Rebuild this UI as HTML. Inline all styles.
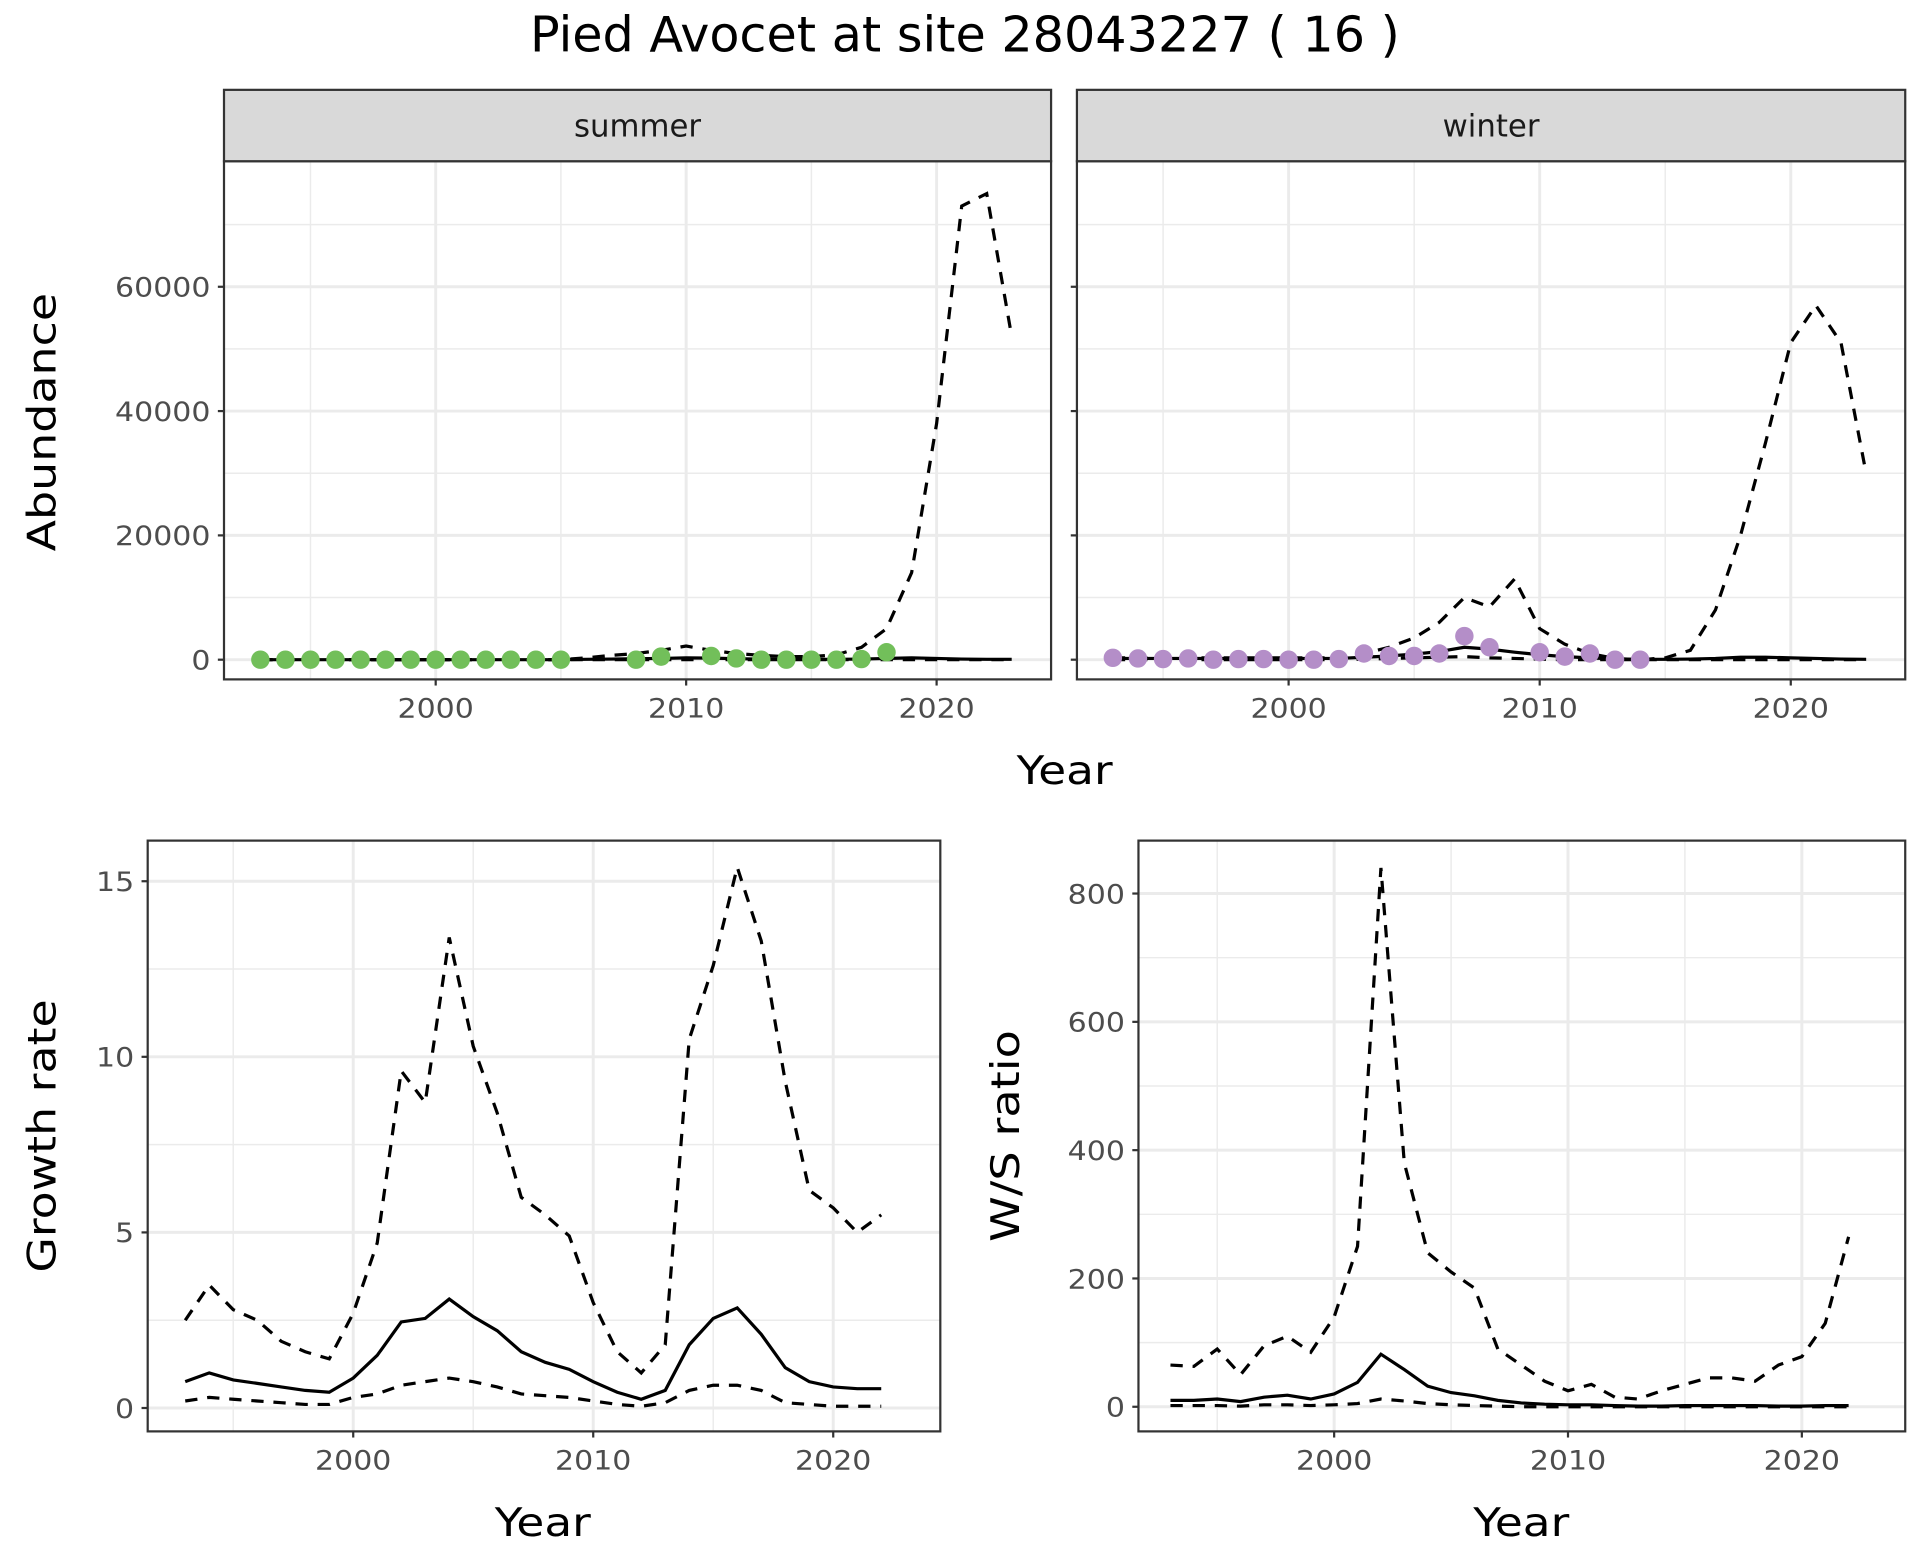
<!DOCTYPE html>
<html><head><meta charset="utf-8"><style>html,body{margin:0;padding:0;background:#fff}svg{display:block}</style></head>
<body>
<svg id="chart" width="1920" height="1560" viewBox="0 0 1560 1267.5" preserveAspectRatio="none" xmlns="http://www.w3.org/2000/svg" font-family="'DejaVu Sans','Liberation Sans',sans-serif">
<text x="784" y="42" font-size="40" text-anchor="middle">Pied Avocet at site 28043227 ( 16 )</text>
</svg>
<script>
const yearsAb = [];for(let y=1993;y<=2023;y++)yearsAb.push(y);
const yearsGr = [];for(let y=1993;y<=2022;y++)yearsGr.push(y);
const sumPtsYears = [1993,1994,1995,1996,1997,1998,1999,2000,2001,2002,2003,2004,2005,2008,2009,2011,2012,2013,2014,2015,2016,2017,2018];
const sumPtsVals  = [0,0,0,0,0,0,0,0,0,0,0,0,0,0,500,600,200,0,0,0,0,100,1200];
const sumMid = [0,0,0,0,0,0,0,0,0,0,0,0,0,50,100,150,200,300,250,150,100,50,50,50,100,200,300,200,100,50,50];
const sumUp  = [0,0,0,0,0,0,0,0,0,0,0,0,0,300,700,1000,1500,2200,1500,1000,700,500,500,800,2000,5000,14000,38000,73000,75000,52000];
const sumLo  = [0,0,0,0,0,0,0,0,0,0,0,0,0,0,0,0,0,0,0,0,0,0,0,0,0,0,0,0,0,0,0];
const winPtsYears = [1993,1994,1995,1996,1997,1998,1999,2000,2001,2002,2003,2004,2005,2006,2007,2008,2010,2011,2012,2013,2014];
const winPtsVals  = [300,200,100,200,0,100,100,0,0,100,1000,600,600,1000,3800,2000,1200,500,1000,0,0];
const winMid = [200,200,200,200,200,200,200,200,200,200,400,600,900,1300,2000,1700,1200,800,500,300,100,50,50,100,200,400,400,300,200,100,50];
const winUp  = [300,300,300,300,300,300,300,300,300,300,1000,2000,3500,6000,10000,8500,13000,5000,2500,1000,200,0,300,1500,8000,20000,35000,51000,57000,51000,30000];
const winLo  = [0,0,0,0,0,0,0,0,0,0,100,200,300,400,500,300,200,100,0,0,0,0,0,0,0,0,0,0,0,0,0];
const grUp  = [2.5,3.5,2.8,2.5,1.9,1.6,1.4,2.7,4.7,9.6,8.7,13.4,10.3,8.4,6.0,5.5,4.9,3.0,1.6,1.0,1.8,10.5,12.6,15.4,13.3,9.3,6.2,5.7,5.0,5.5];
const grMid = [0.75,1.0,0.8,0.7,0.6,0.5,0.45,0.85,1.5,2.45,2.55,3.1,2.6,2.2,1.6,1.3,1.1,0.75,0.45,0.25,0.5,1.8,2.55,2.85,2.1,1.15,0.75,0.6,0.55,0.55];
const grLo  = [0.2,0.3,0.25,0.2,0.15,0.1,0.1,0.3,0.4,0.65,0.75,0.85,0.75,0.6,0.4,0.35,0.3,0.2,0.1,0.05,0.15,0.5,0.65,0.65,0.5,0.15,0.1,0.05,0.05,0.05];
const wsUp  = [65,63,90,50,95,110,85,140,250,840,380,240,210,185,90,65,40,25,35,15,12,25,35,45,45,40,65,78,130,265];
const wsMid = [10,10,12,8,15,18,12,20,38,82,58,32,22,17,10,6,4,3,3,2,1,1,2,2,2,2,1,1,2,2];
const wsLo  = [2,2,2,1,3,3,2,3,5,12,9,5,3,2,1,0,0,0,0,0,0,0,0,0,0,0,0,0,0,0];
const abTicks = [0,20000,40000,60000];
const grTicks = [0,5,10,15];
const wsTicks = [0,200,400,600,800];
const xTicks = [2000,2010,2020];

const svg = document.getElementById('chart');
const NS='http://www.w3.org/2000/svg';
function mk(tag,attrs,parent){const e=document.createElementNS(NS,tag);for(const k in attrs)e.setAttribute(k,attrs[k]);(parent||svg).appendChild(e);return e;}
function txt(s,attrs){const e=mk('text',attrs);e.textContent=s;return e;}

function panel(p){
  const g=mk('g',{});
  
  
  const X=v=>p.x0+(v-p.xa)*p.xs, Y=v=>p.y0-(v-p.ya)*p.ys;
  mk('rect',{x:p.L,y:p.T,width:p.R-p.L,height:p.B-p.T,fill:'#fff'},g);
  for(let i=0;i<p.yt.length+1;i++){const v=p.yt[0]+(i-0.5)*(p.yt[1]-p.yt[0]);const y=Y(v);if(y>p.T&&y<p.B)mk('line',{x1:p.L,x2:p.R,y1:y,y2:y,stroke:'#ebebeb','stroke-width':1.2},g);}
  for(let v=1985;v<=2035;v+=10){const x=X(v);if(x>p.L&&x<p.R)mk('line',{x1:x,x2:x,y1:p.T,y2:p.B,stroke:'#ebebeb','stroke-width':1.2},g);}
  p.yt.forEach(v=>{const y=Y(v);mk('line',{x1:p.L,x2:p.R,y1:y,y2:y,stroke:'#ebebeb','stroke-width':2.4},g);
    if(p.ylab){const t=txt(String(v),{x:p.L-11,y:y+8,'font-size':22,fill:'#4d4d4d','text-anchor':'end',textLength:String(v).length*15.5,lengthAdjust:'spacingAndGlyphs'});}
    mk('line',{x1:p.L-5,x2:p.L,y1:y,y2:y,stroke:'#333','stroke-width':1.8},g);});
  xTicks.forEach(v=>{const x=X(v);mk('line',{x1:x,x2:x,y1:p.T,y2:p.B,stroke:'#ebebeb','stroke-width':2.4},g);
    mk('line',{x1:x,x2:x,y1:p.B,y2:p.B+5,stroke:'#333','stroke-width':1.8},g);
    const t=txt(String(v),{x:x,y:p.B+31,'font-size':22,fill:'#4d4d4d','text-anchor':'middle',textLength:62,lengthAdjust:'spacingAndGlyphs'});});
  const line=(ys,years,dash,nm)=>{const d=ys.map((v,i)=>(i?'L':'M')+X(years[i]).toFixed(1)+','+Y(v).toFixed(1)).join('');
    const e=mk('path',{d:d,fill:'none',stroke:'#000','stroke-width':2.6,'stroke-dasharray':dash?'10,8':'none'},g);
    };
  line(p.lo,p.years,true,'lower-ci-line');line(p.up,p.years,true,'upper-ci-line');line(p.mid,p.years,false,'estimate-line');
  if(p.pts){p.pts.forEach((v,i)=>{const c=mk('circle',{cx:X(p.ptsY[i]),cy:Y(v),r:7.5,fill:p.col},g);
    });}
  mk('rect',{x:p.L,y:p.T,width:p.R-p.L,height:p.B-p.T,fill:'none',stroke:'#333','stroke-width':1.8},g);
  if(p.strip){const s=mk('rect',{x:p.L,y:p.T-58,width:p.R-p.L,height:58,fill:'#d9d9d9',stroke:'#333','stroke-width':1.8},g);
    
    const t=txt(p.strip,{x:(p.L+p.R)/2,y:p.T-20,'font-size':25,fill:'#1a1a1a','text-anchor':'middle'});}
}
panel({name:'summer-panel',L:182,R:854,T:131,B:552,x0:354,xa:2000,xs:20.35,y0:536,ya:0,ys:101/20000,yt:abTicks,ylab:true,years:yearsAb,up:sumUp,mid:sumMid,lo:sumLo,pts:sumPtsVals,ptsY:sumPtsYears,col:'#72bf5a',strip:'summer'});
panel({name:'winter-panel',L:875,R:1548,T:131,B:552,x0:1047,xa:2000,xs:20.4,y0:536,ya:0,ys:101/20000,yt:abTicks,ylab:false,years:yearsAb,up:winUp,mid:winMid,lo:winLo,pts:winPtsVals,ptsY:winPtsYears,col:'#b48ec8',strip:'winter'});
panel({name:'growth-rate-panel',L:120,R:764,T:683,B:1163,x0:287,xa:2000,xs:19.5,y0:1144,ya:0,ys:(1144-716)/15,yt:grTicks,ylab:true,years:yearsGr,up:grUp,mid:grMid,lo:grLo});
panel({name:'ws-ratio-panel',L:925,R:1548,T:683,B:1163,x0:1084,xa:2000,xs:19,y0:1143,ya:0,ys:(1143-726)/800,yt:wsTicks,ylab:true,years:yearsGr,up:wsUp,mid:wsMid,lo:wsLo});
const lab=(s,x,y,rot,nm,w)=>{const t=txt(s,{x:x,y:y,'font-size':32,fill:'#000','text-anchor':'middle',textLength:w,lengthAdjust:'spacingAndGlyphs',transform:rot?`rotate(-90 ${x} ${y})`:''});};
lab('Year',865,637,false,'x-axis-title',78);
lab('Abundance',45,343,true,'y-axis-title',210);
lab('Year',441,1248,false,'x-axis-title',78);
lab('Growth rate',45,923,true,'y-axis-title',222);
lab('Year',1236,1248,false,'x-axis-title',78);
lab('W/S ratio',828,923,true,'y-axis-title',172);
</script>
</body></html>
